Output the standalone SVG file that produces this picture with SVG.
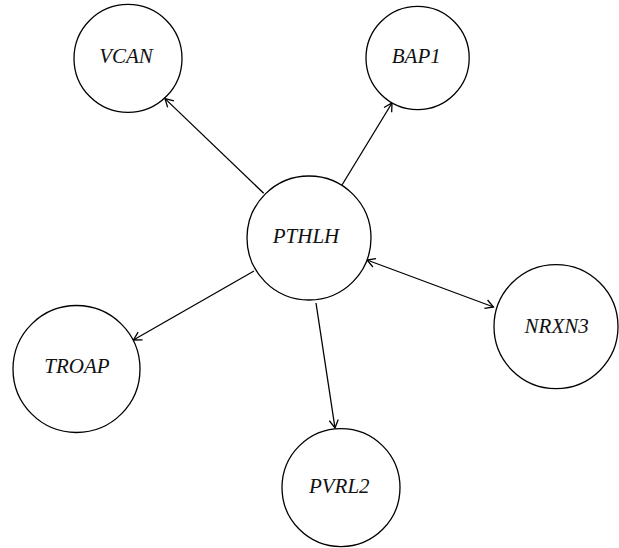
<svg xmlns="http://www.w3.org/2000/svg" width="619" height="548" viewBox="0 0 619 548">
<style>
.node circle{fill:#fff;stroke:#000;stroke-width:1.3}
.node text{font-family:"Liberation Serif","Times New Roman",serif;font-style:italic;font-size:21px;fill:#111;text-anchor:middle}
.edges line{stroke:#000;stroke-width:1.3;fill:none}
</style>
<defs>
<marker id="arr" markerUnits="userSpaceOnUse" viewBox="-10 -6 12 12" refX="0" refY="0" markerWidth="12" markerHeight="12" orient="auto-start-reverse">
<path d="M-8,-4.5 L0,0 L-8,4.5" fill="none" stroke="#000" stroke-width="1.3"/>
</marker>
</defs>
<g class="edges">
<line x1="263.7" y1="193.3" x2="165" y2="98.6" marker-end="url(#arr)"/>
<line x1="342" y1="185" x2="392" y2="103" marker-end="url(#arr)"/>
<line x1="367" y1="260" x2="493.5" y2="307" marker-start="url(#arr)" marker-end="url(#arr)"/>
<line x1="254" y1="271" x2="133.4" y2="340" marker-end="url(#arr)"/>
<line x1="316" y1="303" x2="335" y2="428" marker-end="url(#arr)"/>
</g>
<g id="VCAN" class="node"><circle cx="128" cy="58.4" r="54"/><text x="126" y="63.3">VCAN</text></g>
<g id="BAP1" class="node"><circle cx="417.6" cy="58" r="51.6"/><text x="416.3" y="63.3">BAP1</text></g>
<g id="PTHLH" class="node"><circle cx="309" cy="238" r="62"/><text x="306" y="243.3">PTHLH</text></g>
<g id="NRXN3" class="node"><circle cx="556" cy="326.6" r="62"/><text x="556.7" y="333.3">NRXN3</text></g>
<g id="TROAP" class="node"><circle cx="76.5" cy="369" r="63.5"/><text x="77" y="372.7">TROAP</text></g>
<g id="PVRL2" class="node"><circle cx="341" cy="487.6" r="59"/><text x="339.3" y="493.3">PVRL2</text></g>
</svg>
